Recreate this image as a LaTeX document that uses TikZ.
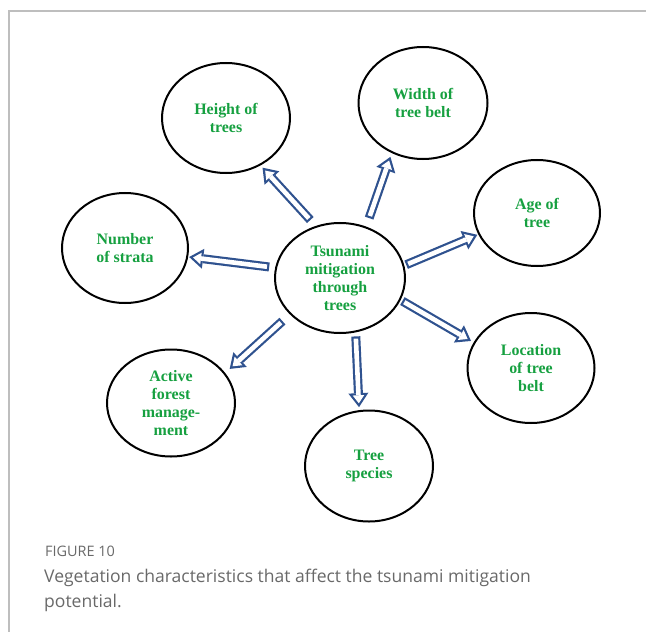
\documentclass[tikz,border=0pt]{standalone}
\usepackage{fontspec}
\setmainfont{Liberation Serif}
\newfontfamily\capfont{Open Sans}
\usetikzlibrary{arrows.meta,shapes.geometric,positioning}
\definecolor{arrowblue}{RGB}{47,82,143}
\definecolor{labelgreen}{RGB}{22,160,64}
\definecolor{framegray}{RGB}{190,190,190}
\definecolor{capgray}{RGB}{105,105,105}

\begin{document}
\begin{tikzpicture}[x=1bp, y=-1bp]

    \tikzstyle{factor} = [ellipse, draw=black, line width=2bp, minimum width=128bp, minimum height=110bp, inner sep=0pt, align=center, text=labelgreen, font=\bfseries\fontsize{16}{18}\selectfont]
    \tikzstyle{outer} = [arrowblue, line width=9bp, -{Triangle[length=14bp, width=20bp, line width=0pt]}]
    \tikzstyle{inner} = [white, line width=4.6bp, -{Triangle[length=8bp, width=11.6bp, line width=0pt]}]
    \tikzstyle{caption} = [anchor=base west, inner sep=0pt, text=capgray]

    \useasboundingbox (0,0) rectangle (646,632);
    \draw[framegray, line width=1.5bp] (9,632) -- (9,11) -- (646,11);

    \node (centre)   [factor, minimum width=130bp]              at (340,278) {Tsunami\\mitigation\\through\\trees};

    \node (height)   [factor]                                   at (226,118) {Height of\\trees};

    \node (width)    [factor, minimum width=129bp, minimum height=112bp] at (423,103) {Width of\\tree belt};

    \node (age)      [factor, minimum width=126bp, minimum height=106bp] at (537,213) {Age of\\tree};

    \node (number)   [factor, minimum width=126bp]              at (125,248) {Number\\of strata};

    \node (location) [factor, minimum width=127bp]              at (531,368) {Location\\of tree\\belt};

    \node (active)   [factor, minimum height=107bp]             at (171,403) {Active\\forest\\manage-\\ment};

    \node (species)  [factor, minimum height=111bp]             at (369,466) {Tree\\species};

    % hollow block arrows: blue body first, white core on top
    \foreach \from/\to/\gapa/\gapb in {centre.115/height.-54/8/3, centre.63/width.238/9/4,
        centre.11/age.200/2/1, centre.-20/location.156/2/3, centre.-74/species.100/4/3,
        centre.216/active.29/10/6, centre.171/number.-8/6/1}
    {
        \draw[outer, shorten <=\gapa bp, shorten >=\gapb bp] (\from) -- (\to);
        \draw[inner, shorten <={(\gapa+2.2)*1bp}, shorten >={(\gapb+3.9)*1bp}] (\from) -- (\to);
    }

    \node (fignum)   [caption, font=\capfont\fontsize{14.5}{17}\selectfont] at (45,556) {FIGURE 10};
    \node (captext)  [caption, font=\capfont\fontsize{17.6}{22}\selectfont] at (44,582) {Vegetation characteristics that affect the tsunami mitigation};
    \node (capend)   [caption, font=\capfont\fontsize{17.6}{22}\selectfont] at (44,607) {potential.};

\end{tikzpicture}
\end{document}
